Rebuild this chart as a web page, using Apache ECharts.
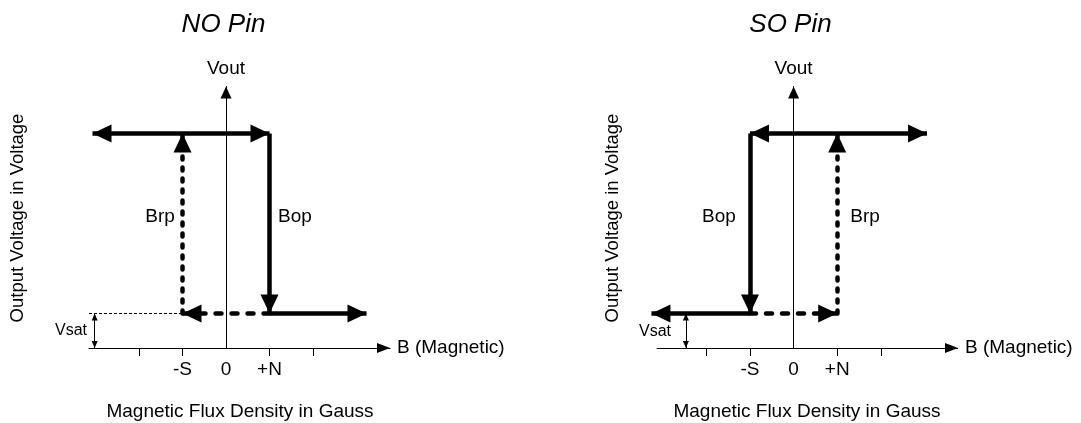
<!DOCTYPE html>
<html><head><meta charset="utf-8">
<script src="https://cdn.jsdelivr.net/npm/echarts@6/dist/echarts.min.js"></script>
<style>html,body{margin:0;padding:0;background:#fff}#c{width:1081px;height:423px}</style>
</head><body><div id="c"></div>
<script>
// ---- data ----
const chartTitles = ['NO Pin', 'SO Pin'];
const tickValues = [-2, -1, 1, 2];
const labelValues = [-1, 0, 1];
const labelTexts = ['-S', '0', '+N'];
const xRangeNO = [-3.15, 3.77];
const xRangeSO = [-3.27, 3.77];
const soAxisStart = -3.14;
const yRange = [0, 7.58];
const S = -1, N = 1;            // release / operate points
const vSat = 1, vHigh = 6.22;   // output levels
const noEnds = [-3.07, 3.23];   // arrow tips of NO curve
const soEnds = [-3.26, 3.06];   // arrow tips of SO curve
const vsatMarkX = [-3.02, -2.47];

const FONT = '"Liberation Sans", Arial, sans-serif';
const BIG = [18, 19], SMALL = [6, 7], AX = [10, 13];
const solid = { color: '#000', width: 4.5, type: 'solid' };
const dashH = { color: '#000', width: 4.5, type: [6, 10], cap: 'round' };
const dashV = { color: '#000', width: 4.5, type: [3, 8], cap: 'round' };
const dotted = { color: '#000', width: 1, type: [3, 2] };
const thin = { color: '#000', width: 1, type: 'solid' };

function seg(x1, y1, x2, y2, style, a1, a2, size) {
  size = size || BIG;
  return [
    { coord: [x1, y1], lineStyle: style, symbol: a1 ? 'triangle' : 'none', symbolSize: size, symbolOffset: [0, '50%'] },
    { coord: [x2, y2], symbol: a2 ? 'triangle' : 'none', symbolSize: size, symbolOffset: [0, '50%'] }
  ];
}

const noSegs = [
  seg(noEnds[0], vHigh, N, vHigh, solid, true, true),
  seg(N, vHigh, N, vSat, solid, false, true),
  seg(N, vSat, noEnds[1], vSat, solid, false, true),
  seg(N, vSat, S, vSat, dashH, false, true),
  seg(S, vSat, S, vHigh, dashV, false, true),
  seg(xRangeNO[0], vSat, S, vSat, dotted, false, false),
  seg(vsatMarkX[0], 0, vsatMarkX[0], vSat, thin, true, true, SMALL)
];
const soSegs = [
  seg(soAxisStart, 0, xRangeSO[1], 0, thin, false, true, AX),
  seg(S, vHigh, soEnds[1], vHigh, solid, true, true),
  seg(S, vHigh, S, vSat, solid, false, true),
  seg(S, vSat, soEnds[0], vSat, solid, false, true),
  seg(S, vSat, N, vSat, dashH, false, true),
  seg(N, vSat, N, vHigh, dashV, false, true),
  seg(vsatMarkX[1], 0, vsatMarkX[1], vSat, thin, true, true, SMALL)
];

const grids = [
  { left: 89, right: 691, top: 86.5, bottom: 75 },
  { left: 651, right: 123, top: 86.5, bottom: 75 }
];

function xAxis(i, range, showLine) {
  return {
    gridIndex: i, type: 'value', min: range[0], max: range[1],
    axisLine: { show: showLine, onZero: false, lineStyle: { color: '#000', width: 1 }, symbol: ['none', 'triangle'], symbolSize: AX, symbolOffset: [0, -6.5] },
    axisTick: { show: true, customValues: tickValues, length: 8, lineStyle: { color: '#000', width: 1 } },
    axisLabel: { show: true, customValues: labelValues, margin: 12, color: '#000', fontSize: 19, fontFamily: FONT,
      formatter: v => labelTexts[labelValues.indexOf(Math.round(v))] },
    splitLine: { show: false },
    name: 'B (Magnetic)', nameLocation: 'end', nameGap: 7,
    nameTextStyle: { color: '#000', fontSize: 19, fontFamily: FONT }
  };
}
function yAxis(i) {
  return {
    gridIndex: i, type: 'value', min: yRange[0], max: yRange[1],
    axisLine: { show: true, onZero: true, lineStyle: { color: '#000', width: 1 }, symbol: ['none', 'triangle'], symbolSize: [11, 12], symbolOffset: [0, -6] },
    axisTick: { show: false }, axisLabel: { show: false }, splitLine: { show: false },
    name: 'Vout', nameLocation: 'end', nameGap: 8,
    nameTextStyle: { color: '#000', fontSize: 19, fontFamily: FONT }
  };
}
function markSeries(i, segs) {
  return {
    type: 'line', xAxisIndex: i, yAxisIndex: i, data: [], silent: true, animation: false,
    markLine: { silent: true, animation: false, symbol: ['none', 'none'], precision: 4,
      label: { show: false }, emphasis: { disabled: true }, data: segs }
  };
}
function txt(x, y, text, size, extra) {
  return Object.assign({ type: 'text', x: x, y: y, silent: true,
    style: { text: text, fill: '#000', font: (extra && extra.italic ? 'italic ' : '') + size + 'px ' + FONT, align: 'center', verticalAlign: 'middle' } },
    extra && extra.rotation ? { rotation: extra.rotation } : {});
}

const chart = echarts.init(document.getElementById('c'), null, { renderer: 'canvas' });
chart.setOption({
  animation: false,
  backgroundColor: '#fff',
  grid: grids,
  xAxis: [xAxis(0, xRangeNO, true), xAxis(1, xRangeSO, false)],
  yAxis: [yAxis(0), yAxis(1)],
  series: [markSeries(0, noSegs), markSeries(1, soSegs)],
  graphic: [
    txt(223.5, 25, chartTitles[0], 26, { italic: true }),
    txt(790.5, 25, chartTitles[1], 26, { italic: true }),
    txt(18, 218, 'Output Voltage in Voltage', 18.5, { rotation: Math.PI / 2 }),
    txt(613, 218, 'Output Voltage in Voltage', 18.5, { rotation: Math.PI / 2 }),
    txt(240, 412, 'Magnetic Flux Density in Gauss', 19),
    txt(807, 412, 'Magnetic Flux Density in Gauss', 19),
    txt(160, 217, 'Brp', 19), txt(295, 217, 'Bop', 19),
    txt(719, 217, 'Bop', 19), txt(865, 217, 'Brp', 19),
    txt(71, 331, 'Vsat', 16), txt(655, 332, 'Vsat', 16)
  ]
});
</script></body></html>
